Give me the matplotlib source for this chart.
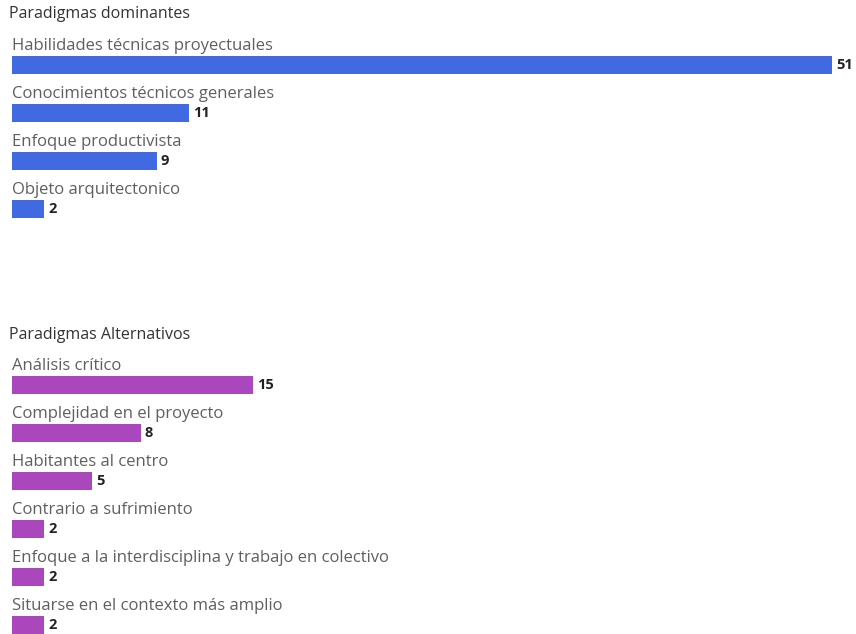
import matplotlib.pyplot as plt

# data
dom_labels = ["Habilidades técnicas proyectuales", "Conocimientos técnicos generales",
              "Enfoque productivista", "Objeto arquitectonico"]
dom_values = [51, 11, 9, 2]

alt_labels = ["Análisis crítico", "Complejidad en el proyecto", "Habitantes al centro",
              "Contrario a sufrimiento",
              "Enfoque a la interdisciplina y trabajo en colectivo",
              "Situarse en el contexto más amplio"]
alt_values = [15, 8, 5, 2, 2, 2]

W, H = 856, 634
plt.rcParams['font.family'] = ['Open Sans', 'DejaVu Sans']
fig = plt.figure(figsize=(W / 100, H / 100), dpi=100)

ROW = 48      # px between rows
XMAX = 52.5   # units across the axes width


def section(title, labels, values, color, first_center, title_y, ymax):
    ymin = -0.8
    top = first_center + ymin * ROW
    height = (ymax - ymin) * ROW
    ax = fig.add_axes([12 / W, 1 - (top + height) / H, (W - 12) / W, height / H])
    ax.set_xlim(0, XMAX)
    ax.set_ylim(ymax, ymin)
    ax.axis('off')
    ys = range(len(values))
    ax.barh(ys, values, height=0.375, color=color)
    for y, lab, v in zip(ys, labels, values):
        ax.text(0, y - 0.40, lab, fontsize=12, color='#5f5f5f', va='center', ha='left')
        ax.text(v + 0.25, y, str(v), fontsize=10.5, fontweight='bold', color='#222222',
                va='center', ha='left')
    fig.text(9 / W, 1 - title_y / H, title, fontsize=11.5, color='#333333',
             fontweight='medium', va='center', ha='left')


section("Paradigmas dominantes", dom_labels, dom_values, '#4169e1', 65, 14, 3.5)
section("Paradigmas Alternativos", alt_labels, alt_values, '#ab47bc', 385, 335, 5.2)

fig.savefig('out.png', dpi=100)
